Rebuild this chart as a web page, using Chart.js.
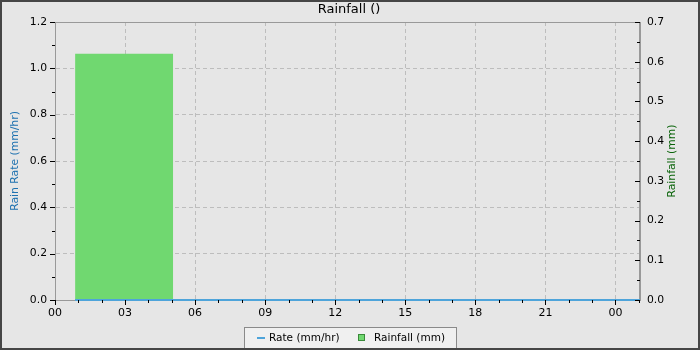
<!DOCTYPE html>
<html>
<head>
<meta charset="utf-8">
<script src="https://cdn.jsdelivr.net/npm/chart.js@4/dist/chart.umd.min.js"></script>
<style>
  html, body { margin: 0; padding: 0; background: #e6e6e6; }
  #wrap { position: relative; width: 700px; height: 350px; }
</style>
</head>
<body>
<div id="wrap"><canvas id="rain"></canvas></div>
<script>
  // hours since midnight
  const rateTimes = [0.86, 25.05];
  const rateValues = [0, 0];
  const rainStart = [0.86];
  const rainEnd = [5.06];
  const rainAmount = [0.62];
  const hourLabels = ["00", "03", "06", "09", "12", "15", "18", "21", "00"];

  const FONT = "'DejaVu Sans', sans-serif";
  const AXIS_GREY = "#999999";
  const GRID_GREY = "#bdbdbd";

  const rateData = rateTimes.map((t, i) => ({ x: t, y: rateValues[i] }));
  const rainData = [];
  rainStart.forEach((s, i) => {
    rainData.push({ x: s, y: rainAmount[i] });
    rainData.push({ x: rainEnd[i], y: rainAmount[i] });
  });

  const isMajorY = (v) => Math.round(v * 10) % 2 === 0;
  const isMajorY1 = (v) => Math.round(v * 100) % 10 === 0;
  const isMajorX = (v) => Math.round(v) % 3 === 0;

  function drawTicks(ctx, scale, isMajor, side) {
    ctx.save();
    ctx.strokeStyle = "#000";
    ctx.lineWidth = 1;
    scale.ticks.forEach((t) => {
      const len = isMajor(t.value) ? 5 : 3;
      const p = Math.round(scale.getPixelForValue(t.value)) + 0.5;
      ctx.beginPath();
      if (side === "left") {
        const x = scale.right;
        ctx.moveTo(x - len, p); ctx.lineTo(x, p);
      } else if (side === "right") {
        const x = scale.left;
        ctx.moveTo(x - len, p); ctx.lineTo(x, p);
      } else {
        const y = scale.top;
        ctx.moveTo(p, y); ctx.lineTo(p, y + len);
      }
      ctx.stroke();
    });
    ctx.restore();
  }

  const decor = {
    id: "decor",
    beforeDraw(chart) {
      const { ctx, width, height } = chart;
      ctx.save();
      ctx.fillStyle = "#e6e6e6";
      ctx.fillRect(0, 0, width, height);
      ctx.restore();
    },
    beforeDatasetsDraw(chart) {
      const { ctx, chartArea: a } = chart;
      ctx.save();
      ctx.strokeStyle = AXIS_GREY;
      ctx.lineWidth = 1;
      ctx.strokeRect(a.left + 0.5, a.top + 0.5, a.right - a.left - 1, a.bottom - a.top);
      ctx.restore();
    },
    afterDraw(chart) {
      const { ctx, chartArea: a, width, height } = chart;
      ctx.save();

      drawTicks(ctx, chart.scales.y, isMajorY, "left");
      drawTicks(ctx, chart.scales.y1, isMajorY1, "right");
      drawTicks(ctx, chart.scales.x, isMajorX, "bottom");

      // title
      ctx.fillStyle = "#000";
      ctx.font = "13px " + FONT;
      ctx.textAlign = "center";
      ctx.textBaseline = "middle";
      ctx.fillText("Rainfall ()", 349, 10);

      // axis titles
      const midY = (a.top + a.bottom) / 2;
      ctx.font = "10.8px " + FONT;
      ctx.save();
      ctx.translate(15, midY);
      ctx.rotate(-Math.PI / 2);
      ctx.fillStyle = "#1f72b0";
      ctx.fillText("Rain Rate (mm/hr)", 0, 0);
      ctx.restore();
      ctx.save();
      ctx.translate(672, midY);
      ctx.rotate(-Math.PI / 2);
      ctx.fillStyle = "#0a640a";
      ctx.fillText("Rainfall (mm)", 0, 0);
      ctx.restore();

      // legend
      ctx.fillStyle = "#f0f0f0";
      ctx.fillRect(244, 327, 212, 22);
      ctx.strokeStyle = "#8a8a8a";
      ctx.lineWidth = 1;
      ctx.strokeRect(244.5, 327.5, 212, 22);
      ctx.strokeStyle = "#4ea4da";
      ctx.lineWidth = 2;
      ctx.beginPath();
      ctx.moveTo(257, 338); ctx.lineTo(265, 338);
      ctx.stroke();
      ctx.fillStyle = "#70d870";
      ctx.fillRect(358, 334, 7, 7);
      ctx.strokeStyle = "#3a8a3a";
      ctx.lineWidth = 1;
      ctx.strokeRect(358.5, 334.5, 6, 6);
      ctx.fillStyle = "#000";
      ctx.textAlign = "left";
      ctx.font = "10.5px " + FONT;
      ctx.fillText("Rate (mm/hr)", 269, 338);
      ctx.fillText("Rainfall (mm)", 374, 338);

      // outer border
      ctx.strokeStyle = "#464646";
      ctx.lineWidth = 2;
      ctx.strokeRect(1, 1, width - 2, height - 2);
      ctx.restore();
    }
  };

  new Chart(document.getElementById("rain"), {
    type: "line",
    data: {
      datasets: [
        {
          label: "Rate (mm/hr)",
          data: rateData,
          yAxisID: "y",
          borderColor: "#4ea4da",
          borderWidth: 2,
          pointRadius: 0,
          fill: false,
          clip: false,
          order: 0
        },
        {
          label: "Rainfall (mm)",
          data: rainData,
          yAxisID: "y1",
          borderWidth: 0,
          borderColor: "rgba(0,0,0,0)",
          backgroundColor: "#70d870",
          pointRadius: 0,
          fill: "origin",
          order: 1
        }
      ]
    },
    options: {
      responsive: true,
      maintainAspectRatio: false,
      animation: false,
      layout: { padding: { top: 22, left: 0, right: 0, bottom: 0 } },
      plugins: {
        legend: { display: false },
        title: { display: false },
        tooltip: { enabled: false }
      },
      scales: {
        x: {
          type: "linear",
          min: 0,
          max: 25.05,
          afterFit: (s) => { s.height = 50; },
          border: { display: true, color: AXIS_GREY, dash: [4, 3] },
          grid: {
            color: (c) => (c.tick && isMajorX(c.tick.value) && c.tick.value > 0 ? GRID_GREY : "rgba(0,0,0,0)"),
            tickLength: 5,
            tickColor: "rgba(0,0,0,0)"
          },
          ticks: {
            stepSize: 1,
            includeBounds: false,
            autoSkip: false,
            maxRotation: 0,
            padding: 2,
            color: "#000",
            font: { family: FONT, size: 11 },
            callback: (v) => (isMajorX(v) ? hourLabels[Math.round(v) / 3] : "")
          }
        },
        y: {
          position: "left",
          min: 0,
          max: 1.2,
          afterFit: (s) => { s.width = 55; },
          border: { display: true, color: AXIS_GREY, dash: [4, 3] },
          grid: {
            color: (c) => (c.tick && isMajorY(c.tick.value) && c.tick.value > 0 ? GRID_GREY : "rgba(0,0,0,0)"),
            tickLength: 5,
            tickColor: "rgba(0,0,0,0)"
          },
          ticks: {
            stepSize: 0.1,
            autoSkip: false,
            padding: 3,
            color: "#000",
            font: { family: FONT, size: 10.8 },
            callback: (v) => (isMajorY(v) ? v.toFixed(1) : "")
          }
        },
        y1: {
          position: "right",
          min: 0,
          max: 0.7,
          afterFit: (s) => { s.width = 60; },
          border: { display: true, color: AXIS_GREY },
          grid: { drawOnChartArea: false, tickLength: 5, tickColor: "rgba(0,0,0,0)" },
          ticks: {
            stepSize: 0.05,
            autoSkip: false,
            padding: 2,
            color: "#000",
            font: { family: FONT, size: 10.8 },
            callback: (v) => (isMajorY1(v) ? v.toFixed(1) : "")
          }
        }
      }
    },
    plugins: [decor]
  });
</script>
</body>
</html>
